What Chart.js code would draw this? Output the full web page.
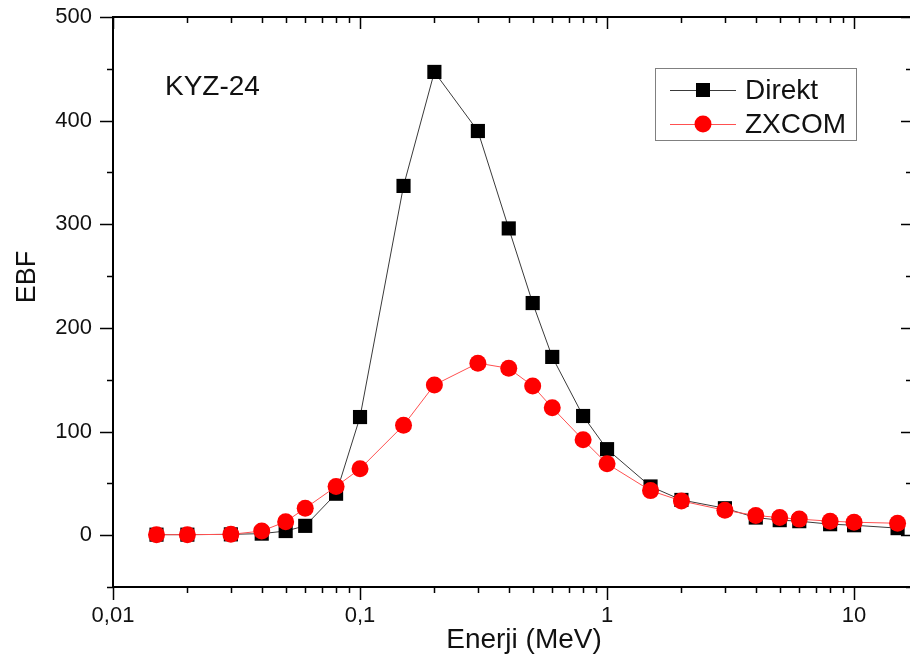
<!DOCTYPE html>
<html><head><meta charset="utf-8">
<script src="https://cdn.jsdelivr.net/npm/chart.js@4/dist/chart.umd.min.js"></script>
<style>html,body{margin:0;padding:0;overflow:hidden;background:#fff}#wrap{width:911px;height:657px;position:relative}</style>
</head><body><div id="wrap"><canvas id="c"></canvas></div>
<script>
const energies = [0.015,0.02,0.03,0.04,0.05,0.06,0.08,0.1,0.15,0.2,0.3,0.4,0.5,0.6,0.8,1,1.5,2,3,4,5,6,8,10,15];
const direkt = [0.5,0.5,0.8,1.5,4,9,40,114,337,447,390,296,224,172,115,83,47,34,26,17,14.5,13.5,10.6,9.6,6.8];
const zxcom  = [0.5,0.5,0.8,4,13,26,47,64,106,145,166,161,144,123,92,69,43,33,24,19,17,15.5,13.5,12.5,11.5];
const seriesLabels = ['Direkt','ZXCOM'];
const xMajorTicks = [0.01,0.1,1,10];
const xTickLabels = ['0,01','0,1','1','10'];
const yMajorTicks = [0,100,200,300,400,500];
const yMinorTicks = [-50,50,150,250,350,450];
const xMin = 0.01, xMax = 17, yMin = -50, yMax = 500;
const annotationText = 'KYZ-24';
const xTitle = 'Enerji (MeV)';
const yTitle = 'EBF';

const FONT = '"Liberation Sans", Arial, Helvetica, sans-serif';

const xMinorTicks = [];
for (let d = 0.01; d < 100; d *= 10) {
  for (let k = 2; k <= 9; k++) {
    const v = +(d * k).toPrecision(3);
    if (v > xMin && v < xMax) xMinorTicks.push(v);
  }
}

const framePlugin = {
  id: 'frame',
  afterDraw(chart) {
    const ctx = chart.ctx, a = chart.chartArea;
    const xs = chart.scales.x, ys = chart.scales.y;
    ctx.save();
    ctx.strokeStyle = '#000';
    ctx.lineWidth = 2;
    ctx.beginPath();
    ctx.moveTo(a.left, a.top); ctx.lineTo(a.right, a.top);
    ctx.lineTo(a.right, a.bottom); ctx.lineTo(a.left, a.bottom); ctx.closePath();
    ctx.stroke();
    ctx.lineWidth = 1.5;
    ctx.beginPath();
    const xt = (v, lb, lt) => {
      const p = Math.round(xs.getPixelForValue(v)) + 0.5;
      ctx.moveTo(p, a.bottom); ctx.lineTo(p, a.bottom + lb);
      ctx.moveTo(p, a.top); ctx.lineTo(p, a.top + lt);
    };
    xMajorTicks.forEach(v => xt(v, 13, 12));
    xMinorTicks.forEach(v => xt(v, 6, 6));
    const yt = (v, ll, lr) => {
      const p = Math.round(ys.getPixelForValue(v)) + 0.5;
      ctx.moveTo(a.left, p); ctx.lineTo(a.left - ll, p);
      ctx.moveTo(a.right, p); ctx.lineTo(a.right - lr, p);
    };
    yMajorTicks.forEach(v => yt(v, 13, 10));
    yMinorTicks.forEach(v => yt(v, 6, 5));
    ctx.stroke();

    ctx.fillStyle = '#111';
    // annotation
    ctx.font = '28px ' + FONT;
    ctx.textAlign = 'left'; ctx.textBaseline = 'alphabetic';
    ctx.fillText(annotationText, a.left + 52, a.top + 78);
    // axis titles
    ctx.textAlign = 'center';
    ctx.fillText(xTitle, a.left + 411, a.bottom + 61);
    ctx.save();
    ctx.translate(a.left - 78, a.top + 260);
    ctx.rotate(-Math.PI / 2);
    ctx.font = '27px ' + FONT;
    ctx.fillText(yTitle, 0, 0);
    ctx.restore();

    // legend
    const lx = a.left + 542, ly = a.top + 51, lw = 201, lh = 72;
    ctx.lineWidth = 1;
    ctx.strokeStyle = '#808080';
    ctx.strokeRect(lx + 0.5, ly + 0.5, lw, lh);
    const rows = [ly + 22, ly + 56];
    chart.data.datasets.forEach((ds, i) => {
      const y = rows[i];
      ctx.strokeStyle = ds.borderColor;
      ctx.lineWidth = 1;
      ctx.beginPath(); ctx.moveTo(lx + 15, y + 0.5); ctx.lineTo(lx + 81, y + 0.5); ctx.stroke();
      ctx.fillStyle = ds.pointBackgroundColor;
      if (ds.pointStyle === 'rect') {
        ctx.fillRect(lx + 48 - 7, y - 7, 14, 14);
      } else {
        ctx.beginPath(); ctx.arc(lx + 48, y, 8.5, 0, Math.PI * 2); ctx.fill();
      }
      ctx.fillStyle = '#111';
      ctx.font = '28px ' + FONT;
      ctx.textAlign = 'left'; ctx.textBaseline = 'middle';
      ctx.fillText(ds.label, lx + 90, y + 1);
    });
    ctx.restore();
  }
};

new Chart(document.getElementById('c'), {
  type: 'line',
  data: {
    datasets: [
      {
        label: seriesLabels[0],
        data: energies.map((e, i) => ({x: e, y: direkt[i]})),
        borderColor: '#3a3a3a', borderWidth: 1,
        pointStyle: 'rect', pointRadius: 10, pointBorderWidth: 0,
        pointBackgroundColor: '#000', pointBorderColor: '#000',
        order: 1, tension: 0
      },
      {
        label: seriesLabels[1],
        data: energies.map((e, i) => ({x: e, y: zxcom[i]})),
        borderColor: '#ff5050', borderWidth: 1,
        pointStyle: 'circle', pointRadius: 8.5, pointBorderWidth: 0,
        pointBackgroundColor: '#ff0000', pointBorderColor: '#ff0000',
        order: 0, tension: 0
      }
    ]
  },
  options: {
    responsive: true, maintainAspectRatio: false, animation: false,
    devicePixelRatio: 1,
    layout: {autoPadding: false, padding: {top: 17, right: 0, left: 0, bottom: 0}},
    plugins: {legend: {display: false}, tooltip: {enabled: false}},
    scales: {
      x: {
        type: 'logarithmic', min: xMin, max: xMax,
        afterBuildTicks: s => { s.ticks = xMajorTicks.map(v => ({value: v})); },
        afterFit: s => { s.height = 70; s.paddingLeft = 0; s.paddingRight = 0; },
        grid: {display: false, drawTicks: false}, border: {display: false},
        ticks: {
          autoSkip: false, maxRotation: 0, padding: 16, color: '#111',
          font: {family: FONT, size: 22},
          callback: (v) => { const i = xMajorTicks.indexOf(v); return i >= 0 ? xTickLabels[i] : ''; }
        }
      },
      y: {
        type: 'linear', min: yMin, max: yMax,
        afterBuildTicks: s => { s.ticks = yMajorTicks.map(v => ({value: v})); },
        afterFit: s => { s.width = 113; s.paddingTop = 0; s.paddingBottom = 0; },
        grid: {display: false, drawTicks: false}, border: {display: false},
        ticks: {
          padding: 21, color: '#111',
          font: {family: FONT, size: 22},
          callback: v => String(v)
        }
      }
    }
  },
  plugins: [framePlugin]
});
</script></body></html>
